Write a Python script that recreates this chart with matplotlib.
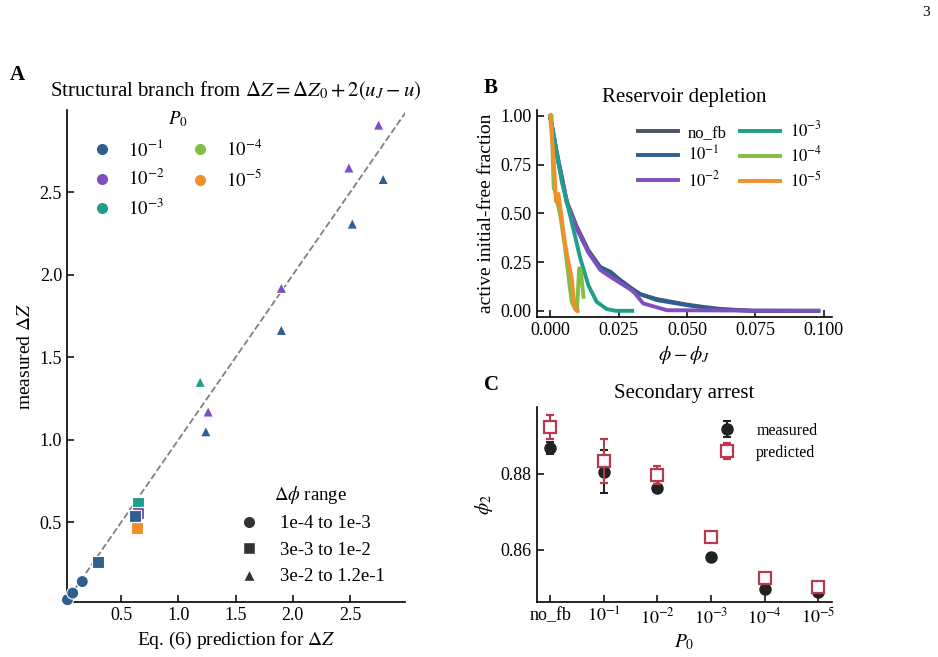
import numpy as np
import matplotlib
matplotlib.use("Agg")
import matplotlib.pyplot as plt
from matplotlib.lines import Line2D

plt.rcParams['font.family'] = ['Liberation Serif', 'DejaVu Serif']
plt.rcParams['mathtext.fontset'] = 'stix'
plt.rcParams['font.size'] = 13

# colours per P0
colors = {
    'no_fb': '#4a5468',
    '1e-1': '#2f5f8f',
    '1e-2': '#7f4fbf',
    '1e-3': '#1f9e8a',
    '1e-4': '#7fbf44',
    '1e-5': '#f28e2b',
}
p0_labels = {'1e-1': r'$10^{-1}$', '1e-2': r'$10^{-2}$', '1e-3': r'$10^{-3}$',
             '1e-4': r'$10^{-4}$', '1e-5': r'$10^{-5}$'}

### A: structural branch points
circ_p0 = ['1e-1', '1e-1', '1e-1']
circ_x = [0.03, 0.076, 0.16]
circ_y = [0.03, 0.07, 0.14]

sq_p0 = ['1e-1', '1e-3', '1e-2', '1e-1', '1e-5']
sq_x = [0.30, 0.645, 0.65, 0.62, 0.64]
sq_y = [0.26, 0.615, 0.555, 0.54, 0.465]

tri_p0 = ['1e-2', '1e-2', '1e-1', '1e-1', '1e-2', '1e-1', '1e-3', '1e-2', '1e-1']
tri_x = [2.75, 2.49, 2.79, 2.52, 1.90, 1.90, 1.19, 1.26, 1.24]
tri_y = [2.91, 2.65, 2.58, 2.31, 1.92, 1.665, 1.35, 1.17, 1.05]

### B: reservoir depletion curves
nofb_x = [0, 0.0025, 0.0061, 0.0098, 0.014, 0.0183, 0.022, 0.025, 0.0293, 0.033, 0.039, 0.05, 0.056, 0.062, 0.068, 0.074, 0.098]
nofb_y = [1.0, 0.80, 0.56, 0.43, 0.31, 0.225, 0.20, 0.165, 0.12, 0.085, 0.06, 0.032, 0.02, 0.01, 0.005, 0.0, 0.0]
fb1_x = [0, 0.0025, 0.0061, 0.0098, 0.014, 0.0183, 0.022, 0.025, 0.0293, 0.033, 0.036, 0.039, 0.05, 0.056, 0.062, 0.074, 0.098]
fb1_y = [1.0, 0.80, 0.555, 0.42, 0.30, 0.22, 0.20, 0.16, 0.115, 0.085, 0.07, 0.055, 0.029, 0.017, 0.007, 0.0, 0.0]
fb2_x = [0, 0.0025, 0.0061, 0.0098, 0.014, 0.0183, 0.022, 0.0293, 0.031, 0.034, 0.0427, 0.098]
fb2_y = [1.0, 0.81, 0.56, 0.42, 0.30, 0.21, 0.175, 0.11, 0.09, 0.038, 0.003, 0.0]
fb3_x = [0, 0.0043, 0.0073, 0.011, 0.014, 0.017, 0.0207, 0.024, 0.030]
fb3_y = [1.0, 0.66, 0.49, 0.27, 0.13, 0.046, 0.009, 0.0, 0.0]
fb4_x = [0.0005, 0.0013, 0.0015, 0.0037, 0.0055, 0.0071, 0.0079, 0.0091, 0.0098, 0.0106, 0.0112, 0.0122]
fb4_y = [1.0, 0.63, 0.63, 0.49, 0.32, 0.13, 0.046, 0.01, 0.0, 0.218, 0.21, 0.072]
fb5_x = [0, 0.0012, 0.0022, 0.003, 0.0037, 0.0055, 0.0067, 0.0079, 0.0085, 0.0091, 0.0098, 0.0101]
fb5_y = [1.0, 0.80, 0.56, 0.60, 0.53, 0.34, 0.25, 0.165, 0.08, 0.01, 0.0, 0.0]

### C: secondary arrest
c_labels = ['no_fb', r'$10^{-1}$', r'$10^{-2}$', r'$10^{-3}$', r'$10^{-4}$', r'$10^{-5}$']
meas = [0.8868, 0.8806, 0.8764, 0.8580, 0.8497, 0.8490]
meas_err = [0.0015, 0.0057, 0.0009, 0.0003, 0.0010, 0.0010]
pred = [0.8923, 0.8835, 0.8797, 0.8635, 0.8526, 0.8502]
pred_err = [0.0032, 0.0058, 0.0024, 0.0002, 0.0005, 0.0005]

fig = plt.figure(figsize=(9.38, 6.57), dpi=100)
axA = fig.add_axes([0.0714, 0.0837, 0.3603, 0.7489])
axB = fig.add_axes([0.5722, 0.518, 0.3145, 0.3146])
axC = fig.add_axes([0.5722, 0.0833, 0.3145, 0.2977])

for ax in (axA, axB, axC):
    ax.spines['top'].set_visible(False)
    ax.spines['right'].set_visible(False)
    for s in ('left', 'bottom'):
        ax.spines[s].set_linewidth(1.2)
    ax.tick_params(direction='in', length=5, width=1.1, labelsize=13)

# --- A
axA.plot([0, 3.0], [0, 3.0], ls='--', color='gray', lw=1.3, zorder=1)
axA.scatter(circ_x, circ_y, c=[colors[p] for p in circ_p0], marker='o', s=75,
            edgecolors='white', linewidths=0.8, zorder=3, clip_on=False)
axA.scatter(sq_x, sq_y, c=[colors[p] for p in sq_p0], marker='s', s=75,
            edgecolors='white', linewidths=0.8, zorder=3)
axA.scatter(tri_x, tri_y, c=[colors[p] for p in tri_p0], marker='^', s=60,
            edgecolors='white', linewidths=0.8, zorder=3)
axA.set_xlim(0.026, 2.98)
axA.set_ylim(0.016, 3.0)
axA.set_xticks([0.5, 1.0, 1.5, 2.0, 2.5])
axA.set_yticks([0.5, 1.0, 1.5, 2.0, 2.5])
axA.set_xlabel(r'Eq. (6) prediction for $\Delta Z$', fontsize=14)
axA.set_ylabel(r'measured $\Delta Z$', fontsize=14)
axA.set_title(r'Structural branch from $\Delta Z = \Delta Z_0 + 2(u_J - u)$', fontsize=15, pad=10)

h1 = [Line2D([], [], marker='o', ls='', color=colors[k], markeredgecolor='white', markersize=9)
      for k in p0_labels]
leg1 = axA.legend(h1, list(p0_labels.values()), title=r'$P_0$', loc='upper left',
                  bbox_to_anchor=(0.025, 1.035), ncol=2, frameon=False, fontsize=13.5,
                  title_fontsize=13.5, columnspacing=1.4, handlelength=1.0, handletextpad=0.9)
axA.add_artist(leg1)
h2 = [Line2D([], [], marker=m, ls='', color='#333333', markeredgecolor='white', markersize=9)
      for m in ('o', 's', '^')]
axA.legend(h2, ['1e-4 to 1e-3', '3e-3 to 1e-2', '3e-2 to 1.2e-1'], title=r'$\Delta\phi$ range',
           loc='lower right', bbox_to_anchor=(0.99, 0.0), frameon=False, fontsize=13.5,
           title_fontsize=13.5, handlelength=1.3, handletextpad=1.0)

# --- B
lw = 2.8
axB.plot(nofb_x, nofb_y, color=colors['no_fb'], lw=lw, label='no_fb')
axB.plot(fb1_x, fb1_y, color=colors['1e-1'], lw=lw, label=r'$10^{-1}$')
axB.plot(fb2_x, fb2_y, color=colors['1e-2'], lw=lw, label=r'$10^{-2}$')
axB.plot(fb3_x, fb3_y, color=colors['1e-3'], lw=lw, label=r'$10^{-3}$')
axB.plot(fb4_x, fb4_y, color=colors['1e-4'], lw=lw, label=r'$10^{-4}$')
axB.plot(fb5_x, fb5_y, color=colors['1e-5'], lw=lw, label=r'$10^{-5}$')
axB.set_ylim(-0.03, 1.03)
axB.set_xticks([0.0, 0.025, 0.05, 0.075, 0.1])
axB.set_xticklabels(['0.000', '0.025', '0.050', '0.075', '0.100'])
axB.set_yticks([0.0, 0.25, 0.5, 0.75, 1.0])
axB.set_yticklabels(['0.00', '0.25', '0.50', '0.75', '1.00'])
axB.set_xlabel(r'$\phi - \phi_J$', fontsize=14)
axB.set_ylabel('active initial-free fraction', fontsize=14)
axB.set_title('Reservoir depletion', fontsize=15)
axB.legend(loc='upper right', ncol=2, frameon=False, fontsize=12, handlelength=2.4,
           columnspacing=0.8, handletextpad=0.6, labelspacing=0.3, bbox_to_anchor=(1.02, 1.02))

# --- C
xc = np.arange(len(c_labels))
axC.errorbar(xc, meas, yerr=meas_err, fmt='o', color='#222222', markersize=8,
             capsize=3, elinewidth=1.5, capthick=1.5, label='measured', zorder=3)
axC.errorbar(xc, pred, yerr=pred_err, fmt='s', color='#b83a4b', markerfacecolor='white',
             markeredgewidth=1.6, markersize=8, capsize=3, elinewidth=1.5, capthick=1.5,
             label='predicted', zorder=4)
axC.set_xticks(xc)
axC.set_xticklabels(c_labels)
axC.set_ylim(0.8462, 0.8977)
axC.set_yticks([0.86, 0.88])
axC.set_xlabel(r'$P_0$', fontsize=14)
axC.set_ylabel(r'$\phi_2$', fontsize=14)
axC.set_title('Secondary arrest', fontsize=15)
axC.legend(loc='upper right', frameon=False, fontsize=11.5, labelspacing=0.35,
           bbox_to_anchor=(1.0, 0.99))

fig.text(10 / 938, 1 - 75 / 657, 'A', fontsize=15, fontweight='bold', va='center')
fig.text(484 / 938, 1 - 88 / 657, 'B', fontsize=15, fontweight='bold', va='center')
fig.text(484 / 938, 1 - 385 / 657, 'C', fontsize=15, fontweight='bold', va='center')
fig.text(926 / 938, 1 - 12 / 657, '3', fontsize=11, ha='center', va='center')

fig.savefig('out.png', dpi=100)
